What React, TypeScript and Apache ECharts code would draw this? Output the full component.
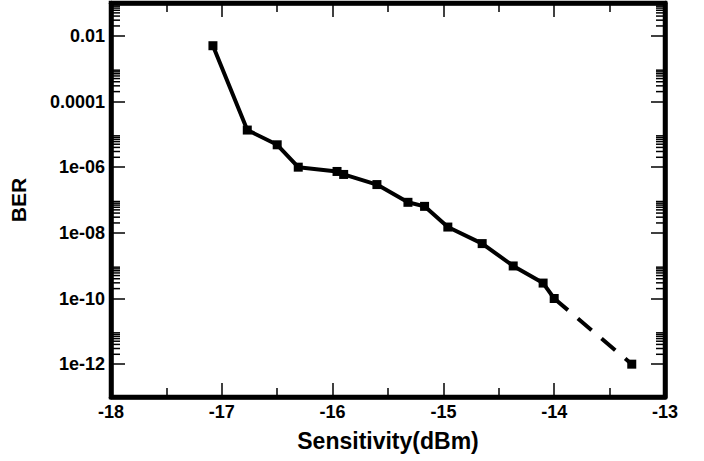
import React, { useEffect, useRef } from "react";
import * as echarts from "echarts";

// Measured curve (solid)
const sensitivity = [-17.08, -16.77, -16.5, -16.31, -15.96, -15.9, -15.6, -15.32, -15.17, -14.96, -14.65, -14.37, -14.1, -14.0];
const ber = [5.0e-3, 1.35e-5, 4.8e-6, 1.0e-6, 7.4e-7, 6.0e-7, 2.95e-7, 8.5e-8, 6.4e-8, 1.5e-8, 4.7e-9, 9.8e-10, 2.95e-10, 1.0e-10];
// Extrapolated segment (dashed)
const extrapSensitivity = [-14.0, -13.3];
const extrapBer = [1.0e-10, 1.0e-12];

const xMin = -18;
const xMax = -13;
const yMin = 1e-13;
const yMax = 1e-1;
// decades that carry minor ticks (k * 10^n, k = 2..9)
const minorDecades = [-2, -4, -6, -8, -10, -12];
const minorMultipliers = [2, 3, 4, 5, 6, 7, 8, 9];

const FONT = '"Liberation Sans", Arial, Helvetica, sans-serif';

function fmtY(v: number): string {
  const e = Math.round(Math.log10(v));
  if (e >= -4) return v.toFixed(-e);
  const a = Math.abs(e);
  return "1e-" + (a < 10 ? "0" + a : String(a));
}

export default function App() {
  const ref = useRef<HTMLDivElement>(null);
  useEffect(() => {
    if (!ref.current) return;
    const chart = echarts.init(ref.current, undefined, { renderer: "svg" });

    const minorValues: number[][] = [];
    minorDecades.forEach((n) => {
      minorMultipliers.forEach((k) => {
        minorValues.push([xMin, k * Math.pow(10, n)]);
      });
    });

    const mkTick = () => ({ color: "#000", width: 1.5 });
    const mkAxisLine = () => ({ show: true, onZero: false, lineStyle: { color: "#000", width: 4.5 } });

    const xBase = () => ({
      type: "value" as const,
      min: xMin,
      max: xMax,
      interval: 1,
      axisLine: mkAxisLine(),
      axisTick: { show: true, inside: true, length: 14, lineStyle: mkTick() },
      minorTick: { show: true, splitNumber: 2, length: 9, lineStyle: mkTick() },
      splitLine: { show: false },
    });
    const yBase = () => ({
      type: "log" as const,
      logBase: 100,
      min: yMin,
      max: yMax,
      splitNumber: 6,
      axisLine: mkAxisLine(),
      axisTick: { show: true, inside: true, length: 14, lineStyle: mkTick() },
      splitLine: { show: false },
    });

    chart.setOption({
      animation: false,
      backgroundColor: "#fff",
      grid: {
        left: 109,
        right: 39,
        top: 3,
        bottom: 64,
        containLabel: false,
        show: true,
        borderColor: "#000",
        borderWidth: 4.5,
        backgroundColor: "transparent",
      },
      xAxis: [
        {
          ...xBase(),
          position: "bottom",
          name: "Sensitivity(dBm)",
          nameLocation: "middle",
          nameGap: 32,
          nameTextStyle: { fontFamily: FONT, fontWeight: "bold", fontSize: 23, color: "#000" },
          axisLabel: { show: true, margin: 6, fontFamily: FONT, fontWeight: "bold", fontSize: 18, color: "#000" },
        },
        { ...xBase(), position: "top", axisLabel: { show: false } },
      ],
      yAxis: [
        {
          ...yBase(),
          position: "left",
          name: "BER",
          nameLocation: "middle",
          nameGap: 82,
          nameTextStyle: { fontFamily: FONT, fontWeight: "bold", fontSize: 21, color: "#000" },
          axisLabel: {
            show: true,
            margin: 6,
            showMinLabel: false,
            showMaxLabel: false,
            fontFamily: FONT,
            fontWeight: "bold",
            fontSize: 18,
            color: "#000",
            formatter: fmtY,
          },
        },
        { ...yBase(), position: "right", axisLabel: { show: false } },
      ],
      series: [
        {
          type: "custom",
          xAxisIndex: 0,
          yAxisIndex: 0,
          silent: true,
          clip: false,
          data: minorValues,
          renderItem: (params: any, api: any) => {
            const cs = params.coordSys;
            const y = api.coord([api.value(0), api.value(1)])[1];
            const st = { stroke: "#000", lineWidth: 1.5 };
            return {
              type: "group",
              children: [
                { type: "line", shape: { x1: cs.x, y1: y, x2: cs.x + 9, y2: y }, style: st },
                { type: "line", shape: { x1: cs.x + cs.width - 9, y1: y, x2: cs.x + cs.width, y2: y }, style: st },
              ],
            };
          },
        },
        {
          type: "line",
          data: extrapSensitivity.map((x, i) =>
            i === 0 ? { value: [x, extrapBer[i]], symbol: "none" } : { value: [x, extrapBer[i]] }
          ),
          symbol: "rect",
          symbolSize: 9,
          lineStyle: { color: "#000", width: 4, type: [18, 13] },
          itemStyle: { color: "#000" },
          z: 3,
        },
        {
          type: "line",
          data: sensitivity.map((x, i) => [x, ber[i]]),
          symbol: "rect",
          symbolSize: 9,
          lineStyle: { color: "#000", width: 4 },
          itemStyle: { color: "#000" },
          z: 4,
        },
      ],
    });
    return () => chart.dispose();
  }, []);
  return <div ref={ref} style={{ position: "absolute", left: 0, top: 0, width: 704, height: 461 }} />;
}
